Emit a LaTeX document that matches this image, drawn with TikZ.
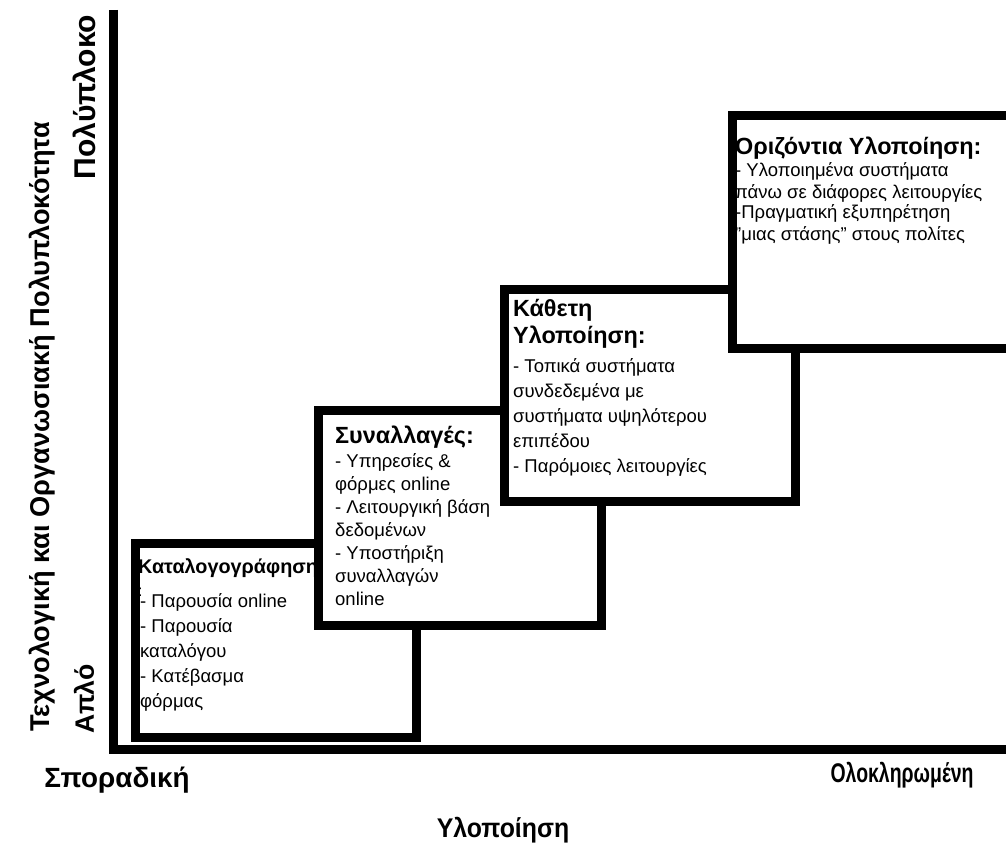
\documentclass[tikz,border=0pt]{standalone}
\usepackage{fontspec}
\setmainfont{Liberation Sans}
\usetikzlibrary{positioning}

\newcommand{\narrowtxt}[2][0.85]{\scalebox{#1}[1]{#2}}

\begin{document}
\begin{tikzpicture}[x=1pt,y=-1pt,
	stage/.style={draw=black,line width=9pt,fill=white,rectangle,inner sep=0pt,anchor=north west},
	head/.style={font=\bfseries\fontsize{23.4}{27}\selectfont,anchor=base west,inner sep=0pt,align=left},
	item/.style={font=\fontsize{18.5}{25}\selectfont,anchor=base west,inner sep=0pt,align=left},
	axislbl/.style={font=\bfseries\fontsize{27}{30}\selectfont,inner sep=0pt}]
	\useasboundingbox (0,0) rectangle (1006,861);
	\fill[white] (0,0) rectangle (1006,861);
	\clip (0,0) rectangle (1006,861);

	% axes
	\coordinate (top)    at (113,10);
	\coordinate (origin) at (113,749.5);
	\coordinate (right)  at (1015,749.5);
	\draw[line width=9pt] (top) -- (origin) -- (right);

	% stage 1
	\node[stage,minimum width=281pt,minimum height=194pt] (katal) at (131,539) {};
	\node[head,font=\bfseries\fontsize{19.8}{24}\selectfont] (katalh) at (138,573) {Καταλογογράφηση};
	\node[head,font=\fontsize{16}{20}\selectfont] (katalc) at (138,596) {:};
	\node[item] (katalt) at (140,707) {- Παρουσία online\\- Παρουσία\\καταλόγου\\- Κατέβασμα\\φόρμας};

	% stage 2
	\node[stage,minimum width=283pt,minimum height=215pt] (synal) at (314,406) {};
	\node[head] (synalh) at (335,443) {Συναλλαγές:};
	\node[item,font=\fontsize{18.5}{23}\selectfont] (synalt) at (335,605) {- Υπηρεσίες \&\\φόρμες online\\- Λειτουργική βάση\\δεδομένων\\- Υποστήριξη\\συναλλαγών\\online};

	% stage 3
	\node[stage,minimum width=291pt,minimum height=212pt] (kath) at (500,285) {};
	\node[head] (kathh) at (513,343) {Κάθετη\\Υλοποίηση:};
	\node[item] (katht) at (513,472) {- Τοπικά συστήματα\\συνδεδεμένα με\\συστήματα υψηλότερου\\επιπέδου\\- Παρόμοιες λειτουργίες};

	% stage 4
	\node[stage,minimum width=282pt,minimum height=233pt] (oriz) at (728,111) {};
	\node[head] (orizh) at (735,155) {Οριζόντια Υλοποίηση:};
	\node[item,font=\fontsize{18.5}{21}\selectfont] (orizt) at (735,240) {- Υλοποιημένα συστήματα\\πάνω σε διάφορες λειτουργίες\\-Πραγματική εξυπηρέτηση\\"μιας στάσης" στους πολίτες};

	% axis labels
	\node[axislbl,font=\bfseries\fontsize{27.8}{30}\selectfont] (sporad) at (117,780) {Σποραδική};
	\node[axislbl] (olokl) at (902,775) {\narrowtxt[0.72]{Ολοκληρωμένη}};
	\node[axislbl] (ylop) at (503,830) {\narrowtxt[0.92]{Υλοποίηση}};
	\node[axislbl,rotate=90,font=\bfseries\fontsize{27.2}{30}\selectfont] (polyp) at (42,427) {Τεχνολογική και Οργανωσιακή Πολυπλοκότητα};
	\node[axislbl,rotate=90,font=\bfseries\fontsize{30}{32}\selectfont] (poly) at (84,97) {Πολύπλοκο};
	\node[axislbl,rotate=90,font=\bfseries\fontsize{26.6}{30}\selectfont] (aplo) at (84,699) {Απλό};
\end{tikzpicture}
\end{document}
